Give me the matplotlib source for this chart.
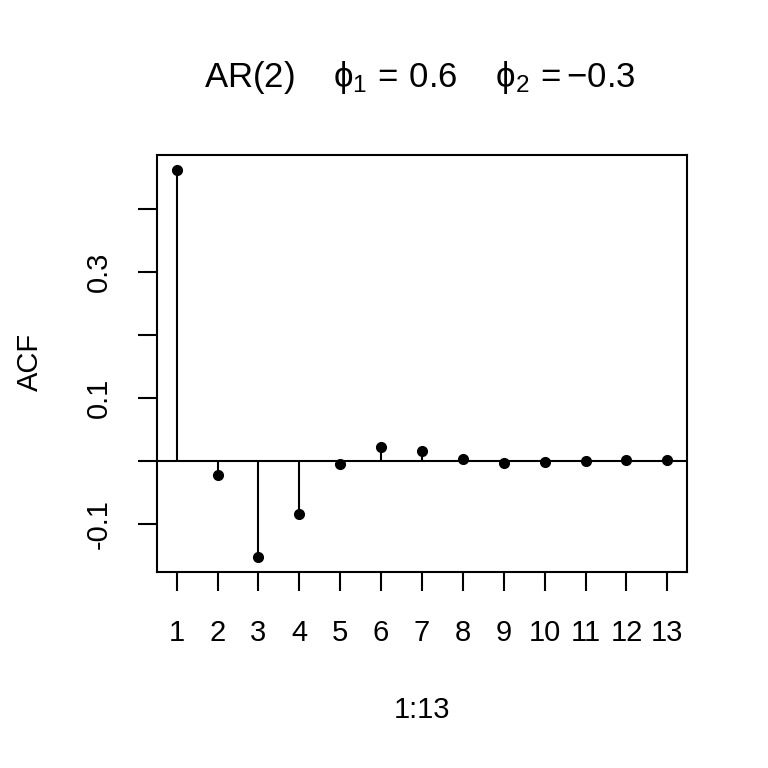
import numpy as np
import matplotlib
matplotlib.use("Agg")
import matplotlib.pyplot as plt

plt.rcParams['font.family'] = ['Liberation Sans', 'DejaVu Sans']
plt.rcParams['mathtext.fontset'] = 'custom'
plt.rcParams['mathtext.rm'] = 'Liberation Sans'
plt.rcParams['mathtext.it'] = 'Liberation Sans'
plt.rcParams['mathtext.bf'] = 'Liberation Sans'

# AR(2) autocorrelations at lags 1..13
lags = np.arange(1, 14)
acf = [0.4615, -0.0231, -0.1523, -0.0845, -0.0050, 0.0224, 0.0149,
       0.0022, -0.0031, -0.0025, 0.0001, 0.0008, 0.0005]
yticks = [-0.1, 0.0, 0.1, 0.2, 0.3, 0.4]
ytick_labels = ['-0.1', '', '0.1', '', '0.3', '']

fig = plt.figure(figsize=(7.68, 7.68), dpi=100)
ax = fig.add_axes([157/768, 1 - 572/768, 530/768, 417/768])

ax.vlines(lags, 0, acf, color='black', lw=1.5)
ax.plot(lags, acf, 'o', color='black', ms=7)
ax.axhline(0, color='black', lw=1.5)

ymin, ymax = min(acf), max(acf)
pad = 0.04 * (ymax - ymin)
ax.set_ylim(ymin - pad, ymax + pad)
ax.set_xlim(1 - 0.04 * 12, 13 + 0.04 * 12)

ax.set_xticks(lags)
ax.set_xticklabels([str(i) for i in lags])
ax.set_yticks(yticks)
ax.set_yticklabels(ytick_labels, rotation=90, va='center')
ax.tick_params(direction='out', length=14, width=1.5, labelsize=21, pad=20)
ax.tick_params(axis='y', pad=18)
for s in ax.spines.values():
    s.set_linewidth(1.5)

fig.text(30/768, 1 - 362/768, 'ACF', rotation=90, ha='center', va='center', fontsize=21)
fig.text(422/768, 1 - 710/768, '1:13', ha='center', va='center', fontsize=21)
fig.text(420/768, 1 - 78/768,
         r'AR$(2)$    $\phi_1\,=\,0.6$    $\phi_2\,=-0.3$',
         ha='center', va='center', fontsize=25)

fig.savefig('out.png', dpi=100)
